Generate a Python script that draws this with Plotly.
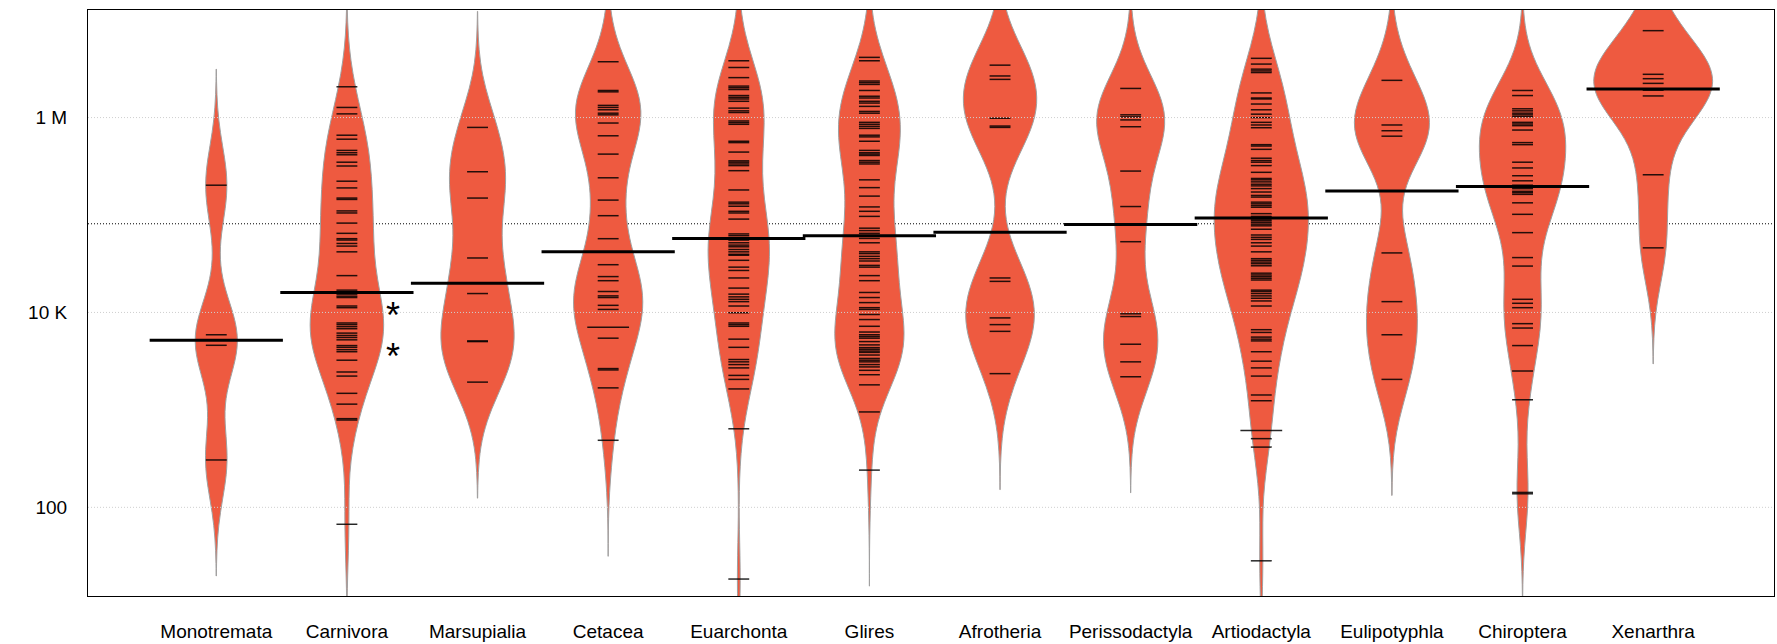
import numpy as np
from collections import Counter
import plotly.graph_objects as go

# ---------------- data (log10 of the plotted values) ----------------
categories = ["Monotremata", "Carnivora", "Marsupialia", "Cetacea", "Euarchonta", "Glires",
              "Afrotheria", "Perissodactyla", "Artiodactyla", "Eulipotyphla", "Chiroptera", "Xenarthra"]

monotremata = [5.306, 3.771, 3.663, 2.486]
carnivora = [6.316, 6.104, 6.038, 5.819, 5.778, 5.663, 5.639, 5.618, 5.542, 5.503, 5.347, 5.278,
             5.174, 5.160, 5.042, 5.021, 4.917, 4.812, 4.757, 4.743, 4.708, 4.681, 4.622, 4.378,
             4.229, 4.208, 4.188, 4.167, 4.153, 4.066, 4.049, 3.892, 3.875, 3.854, 3.833, 3.788,
             3.764, 3.743, 3.719, 3.660, 3.642, 3.618, 3.597, 3.510, 3.389, 3.347, 3.170, 3.059,
             2.910, 2.896, 1.826]
marsupialia = [5.899, 5.444, 5.174, 4.559, 4.194, 3.708, 3.701, 3.285]
cetacea = [6.573, 6.278, 6.264, 6.125, 6.104, 6.080, 6.045, 6.028, 5.944, 5.813, 5.625, 5.382,
           5.153, 4.993, 4.757, 4.490, 4.368, 4.326, 4.215, 4.170, 4.153, 4.073, 4.031, 3.847,
           3.847, 3.736, 3.424, 3.410, 3.226, 2.688]
euarchonta = [6.583, 6.514, 6.410, 6.323, 6.306, 6.288, 6.226, 6.208, 6.191, 6.167, 6.097, 6.069,
              6.052, 5.965, 5.948, 5.931, 5.757, 5.743, 5.646, 5.556, 5.542, 5.524, 5.507, 5.455,
              5.257, 5.132, 5.115, 5.090, 5.038, 5.021, 4.958, 4.806, 4.788, 4.767, 4.743, 4.715,
              4.691, 4.674, 4.646, 4.622, 4.597, 4.587, 4.535, 4.465, 4.431, 4.354, 4.250, 4.188,
              4.160, 4.135, 4.111, 4.066, 3.997, 3.892, 3.875, 3.858, 3.726, 3.642, 3.517, 3.493,
              3.465, 3.431, 3.354, 3.313, 3.215, 2.806, 1.264]
glires = [6.618, 6.583, 6.375, 6.358, 6.340, 6.278, 6.219, 6.201, 6.167, 6.149, 6.115, 6.063,
          6.045, 5.951, 5.931, 5.910, 5.889, 5.819, 5.802, 5.757, 5.663, 5.639, 5.625, 5.611,
          5.559, 5.542, 5.524, 5.361, 5.281, 5.194, 5.083, 5.038, 4.986, 4.865, 4.840, 4.812,
          4.760, 4.715, 4.622, 4.604, 4.576, 4.552, 4.528, 4.483, 4.465, 4.378, 4.326, 4.205,
          4.153, 4.101, 4.049, 4.031, 3.979, 3.927, 3.858, 3.799, 3.771, 3.753, 3.736, 3.701,
          3.667, 3.639, 3.622, 3.604, 3.590, 3.563, 3.528, 3.510, 3.493, 3.465, 3.441, 3.406,
          3.361, 3.257, 2.979, 2.382]
afrotheria = [6.538, 6.427, 6.392, 5.993, 5.913, 5.899, 4.354, 4.319, 3.944, 3.875, 3.806, 3.372]
perissodactyla = [6.299, 6.028, 6.007, 5.976, 5.906, 5.451, 5.087, 4.726, 3.986, 3.958, 3.674,
                  3.493, 3.340]
artiodactyla = [6.608, 6.549, 6.497, 6.479, 6.462, 6.253, 6.201, 6.191, 6.139, 6.080, 6.035, 6.000,
                5.951, 5.924, 5.896, 5.722, 5.708, 5.674, 5.583, 5.559, 5.542, 5.507, 5.438, 5.375,
                5.361, 5.340, 5.316, 5.299, 5.271, 5.236, 5.201, 5.184, 5.132, 5.115, 5.097, 5.080,
                5.014, 4.986, 4.958, 4.941, 4.924, 4.906, 4.889, 4.854, 4.795, 4.771, 4.750, 4.715,
                4.681, 4.622, 4.552, 4.535, 4.517, 4.500, 4.479, 4.403, 4.385, 4.368, 4.351, 4.333,
                4.229, 4.215, 4.194, 4.170, 4.146, 4.118, 4.066, 3.823, 3.795, 3.747, 3.726, 3.708,
                3.597, 3.500, 3.431, 3.347, 3.153, 3.094, 2.788, 2.788, 2.705, 2.618, 1.451]
eulipotyphla = [6.382, 5.924, 5.865, 5.809, 4.611, 4.111, 3.771, 3.313]
chiroptera = [6.278, 6.226, 6.090, 6.069, 6.045, 6.028, 6.010, 5.951, 5.934, 5.917, 5.872, 5.743,
              5.722, 5.542, 5.483, 5.403, 5.351, 5.306, 5.271, 5.243, 5.229, 5.212, 5.125, 5.007,
              4.819, 4.563, 4.476, 4.135, 4.094, 4.049, 3.885, 3.840, 3.660, 3.399, 3.104, 2.153,
              2.139]
xenarthra = [6.892, 6.444, 6.399, 6.351, 6.281, 6.222, 5.413, 4.663]

# per-group summary line and overall line (log10)
bean_lines = [3.715, 4.205, 4.299, 4.622, 4.760, 4.788, 4.823, 4.903, 4.969, 5.247, 5.292, 6.293]
overall_line = 4.910

# significance marks next to Carnivora (log10 positions)
asterisk_y = [4.049, 3.625]

tick_vals = [2, 4, 6]
tick_text = ["100", "10 K", "1 M"]

# ---------------- styles ----------------
groups = [monotremata, carnivora, marsupialia, cetacea, euarchonta, glires, afrotheria,
          perissodactyla, artiodactyla, eulipotyphla, chiroptera, xenarthra]
bean_widths = [0.32, 0.56, 0.56, 0.53, 0.47, 0.53, 0.56, 0.52, 0.72, 0.57, 0.66, 0.91]
BW = 0.397
CUT = 3
LL = 0.16
FILL = "#EE5A40"
OUTLINE = "#A0A0A0"
FONT = "Liberation Sans, Arial, Helvetica, sans-serif"

positions = list(range(1, len(categories) + 1))

fig = go.Figure()

for pos, vals, w in zip(positions, groups, bean_widths):
    fig.add_trace(go.Violin(
        x0=pos, y=vals, orientation="v", width=w, bandwidth=BW,
        spanmode="manual", span=[min(vals) - CUT * BW, max(vals) + CUT * BW],
        fillcolor=FILL, line=dict(color=OUTLINE, width=1),
        points=False, box_visible=False, meanline_visible=False,
        hoverinfo="skip", showlegend=False, scalemode="width",
    ))

# individual observation lines (longer when values repeat)
lx, ly = [], []
for pos, vals in zip(positions, groups):
    for v, c in Counter(vals).items():
        half = LL * c / 2
        lx += [pos - half, pos + half, None]
        ly += [v, v, None]
fig.add_trace(go.Scatter(x=lx, y=ly, mode="lines", hoverinfo="skip", showlegend=False,
                         line=dict(color="rgba(0,0,0,0.85)", width=1.5)))

# group summary lines
mx, my = [], []
for pos, m in zip(positions, bean_lines):
    mx += [pos - 0.51, pos + 0.51, None]
    my += [m, m, None]
fig.add_trace(go.Scatter(x=mx, y=my, mode="lines", hoverinfo="skip", showlegend=False,
                         line=dict(color="black", width=3)))

shapes = [dict(type="line", xref="paper", x0=0, x1=1, yref="y", y0=overall_line, y1=overall_line,
               line=dict(color="black", width=1, dash="1px,2px"), layer="below")]
for t in tick_vals:
    shapes.append(dict(type="line", xref="paper", x0=0, x1=1, yref="y", y0=t, y1=t,
                       line=dict(color="#CFCFCF", width=1, dash="1px,2px"), layer="above"))

annotations = [dict(x=2.35, y=a, xref="x", yref="y", text="*", showarrow=False,
                    font=dict(family=FONT, size=36, color="black"), yshift=-8)
               for a in asterisk_y]

fig.update_layout(
    width=1777, height=644, autosize=False,
    margin=dict(l=88, r=2, t=10, b=44),
    plot_bgcolor="white", paper_bgcolor="white",
    violinmode="overlay", showlegend=False,
    font=dict(family=FONT, size=19, color="black"),
    shapes=shapes, annotations=annotations,
)
fig.update_xaxes(range=[0.018, 12.925], tickvals=positions, ticktext=categories,
                 showgrid=False, zeroline=False, showline=True, mirror=True,
                 linecolor="black", linewidth=1, ticks="", ticklabelstandoff=18,
                 tickfont=dict(size=19))
fig.update_yaxes(range=[1.09, 7.104], tickvals=tick_vals, ticktext=tick_text,
                 showgrid=False, zeroline=False, showline=True, mirror=True,
                 linecolor="black", linewidth=1, ticks="", ticklabelstandoff=16,
                 tickfont=dict(size=19))

fig.write_html("out.html", config={"displayModeBar": False},
               post_script="document.body.style.margin='0px';document.body.style.overflow='hidden';")
